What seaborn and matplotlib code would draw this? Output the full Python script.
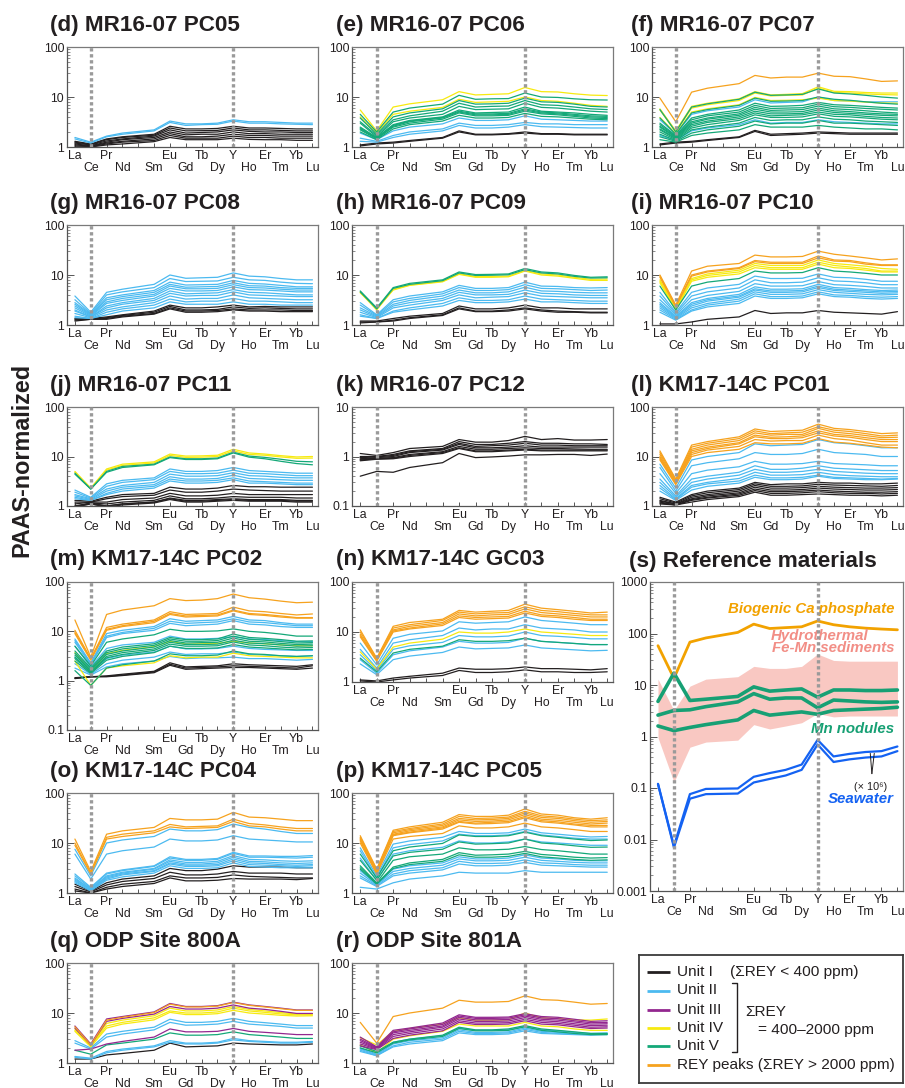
import matplotlib
matplotlib.use("Agg")
import matplotlib.pyplot as plt
from matplotlib.ticker import FixedLocator, FixedFormatter, LogLocator, NullFormatter
import pandas as pd
import seaborn as sns

# ---------------------------------------------------------------- data
ELEMENTS = ['La', 'Ce', 'Pr', 'Nd', 'Sm', 'Eu', 'Gd', 'Tb', 'Dy', 'Y', 'Ho', 'Er', 'Tm', 'Yb', 'Lu']
ELEMENT_POS = [0, 1, 2, 3, 5, 6, 7, 8, 9, 10, 11, 12, 13, 14, 15]   # Pm gap at 4
UPPER_TICKS = [0, 2, 6, 8, 10, 12, 14]
UPPER_LABELS = ['La', 'Pr', 'Eu', 'Tb', 'Y', 'Er', 'Yb']
LOWER_TICKS = [1, 3, 4, 5, 7, 9, 11, 13, 15]
LOWER_LABELS = ['Ce', 'Nd', '', 'Sm', 'Gd', 'Dy', 'Ho', 'Tm', 'Lu']

UNIT_COLORS = {'I': '#231f20', 'II': '#4cbaf0', 'III': '#93278f',
               'IV': '#f7ea10', 'V': '#14a878', 'P': '#f6a21e'}
DRAW_ORDER = ['I', 'II', 'IV', 'V', 'III', 'P']

# (d) MR16-07 PC05
d_I = [[1.30, 1.15, 1.45, 1.60, 1.80, 2.60, 2.30, 2.30, 2.35, 2.60, 2.40, 2.40, 2.35, 2.30, 2.30],
       [1.25, 1.12, 1.40, 1.55, 1.72, 2.40, 2.10, 2.12, 2.15, 2.40, 2.20, 2.20, 2.15, 2.10, 2.10],
       [1.20, 1.10, 1.32, 1.45, 1.65, 2.20, 1.90, 1.95, 2.00, 2.20, 2.05, 2.00, 2.00, 1.95, 1.95],
       [1.15, 1.06, 1.25, 1.40, 1.55, 2.00, 1.75, 1.80, 1.80, 2.00, 1.85, 1.85, 1.80, 1.80, 1.80],
       [1.10, 1.04, 1.20, 1.30, 1.45, 1.85, 1.60, 1.60, 1.65, 1.80, 1.70, 1.70, 1.65, 1.65, 1.65],
       [1.05, 1.02, 1.15, 1.25, 1.35, 1.70, 1.50, 1.50, 1.50, 1.65, 1.55, 1.55, 1.50, 1.50, 1.50],
       [1.00, 1.00, 1.10, 1.15, 1.28, 1.55, 1.40, 1.40, 1.40, 1.50, 1.42, 1.40, 1.40, 1.36, 1.36]]
d_II = [[1.55, 1.25, 1.65, 1.90, 2.20, 3.30, 2.90, 2.90, 3.00, 3.50, 3.20, 3.20, 3.10, 3.00, 3.00],
        [1.45, 1.20, 1.60, 1.80, 2.10, 3.10, 2.70, 2.80, 2.85, 3.30, 3.00, 3.00, 2.90, 2.85, 2.80]]

# (e) MR16-07 PC06
e_I = [[1.10, 1.20, 1.25, 1.35, 1.55, 2.10, 1.80, 1.80, 1.85, 2.00, 1.85, 1.85, 1.80, 1.80, 1.80],
       [1.05, 1.15, 1.20, 1.30, 1.50, 2.00, 1.75, 1.75, 1.80, 1.90, 1.80, 1.80, 1.75, 1.75, 1.75]]
e_II = [[1.90, 1.40, 2.10, 2.50, 2.90, 3.80, 3.40, 3.40, 3.50, 4.20, 3.60, 3.50, 3.40, 3.30, 3.30],
        [1.50, 1.30, 1.70, 2.00, 2.30, 3.00, 2.70, 2.70, 2.80, 3.10, 2.90, 2.90, 2.80, 2.80, 2.80],
        [1.30, 1.25, 1.55, 1.80, 2.10, 2.70, 2.40, 2.40, 2.50, 2.80, 2.55, 2.50, 2.45, 2.40, 2.40]]
e_IV = [[5.50, 2.10, 6.30, 7.30, 8.80, 12.8, 11.0, 11.3, 11.6, 15.5, 12.8, 12.6, 11.6, 10.9, 10.7],
        [4.00, 1.90, 4.50, 5.20, 6.20, 9.00, 7.80, 8.00, 8.20, 10.0, 8.50, 8.20, 7.50, 6.80, 6.50]]
e_V = [[4.50, 2.00, 5.00, 6.00, 7.20, 10.8, 9.00, 9.20, 9.30, 12.0, 10.0, 9.80, 9.20, 8.80, 8.70],
       [3.80, 1.80, 4.00, 4.80, 5.80, 8.50, 7.20, 7.30, 7.50, 9.50, 8.00, 7.80, 7.20, 6.50, 6.30],
       [3.20, 1.70, 3.50, 4.20, 5.20, 7.50, 6.30, 6.50, 6.60, 8.50, 7.00, 6.80, 6.30, 5.80, 5.60],
       [3.00, 1.60, 3.20, 3.80, 4.50, 6.50, 5.60, 5.70, 5.80, 7.50, 6.20, 6.00, 5.60, 5.20, 5.00],
       [2.50, 1.55, 2.80, 3.40, 4.00, 5.50, 4.80, 4.90, 5.00, 6.30, 5.20, 5.00, 4.80, 4.50, 4.30],
       [2.40, 1.50, 2.70, 3.30, 3.90, 5.20, 4.60, 4.60, 4.70, 5.80, 5.00, 4.80, 4.50, 4.20, 4.10],
       [2.30, 1.50, 2.60, 3.20, 3.80, 5.00, 4.40, 4.40, 4.50, 5.50, 4.80, 4.60, 4.30, 4.00, 3.90],
       [2.20, 1.45, 2.50, 3.00, 3.60, 4.80, 4.20, 4.20, 4.30, 5.20, 4.60, 4.40, 4.10, 3.80, 3.70],
       [2.00, 1.40, 2.30, 2.80, 3.30, 4.30, 3.80, 3.80, 3.90, 4.70, 4.10, 4.00, 3.80, 3.60, 3.50]]

# (f) MR16-07 PC07
f_I = [[1.15, 1.25, 1.30, 1.40, 1.60, 2.15, 1.80, 1.85, 1.90, 2.00, 1.95, 1.90, 1.90, 1.90, 1.90],
       [1.10, 1.20, 1.25, 1.35, 1.55, 2.05, 1.70, 1.75, 1.80, 1.90, 1.85, 1.80, 1.80, 1.80, 1.80]]
f_II = [[3.50, 1.80, 4.50, 5.30, 6.30, 8.80, 7.60, 7.80, 8.00, 10.0, 8.50, 8.30, 8.00, 8.00, 8.00],
        [1.70, 1.35, 2.10, 2.40, 2.80, 3.50, 3.00, 3.10, 3.10, 3.50, 3.20, 3.10, 3.00, 2.90, 2.90]]
f_IV = [[5.80, 2.10, 6.50, 7.50, 9.20, 12.8, 11.0, 11.3, 11.7, 16.0, 13.0, 12.8, 12.3, 12.0, 12.0],
        [5.50, 2.00, 6.00, 7.00, 8.50, 12.0, 10.5, 10.8, 11.0, 15.0, 12.3, 12.0, 11.5, 11.2, 11.0],
        [3.90, 1.85, 5.00, 5.80, 7.00, 9.80, 8.50, 8.60, 8.80, 9.50, 8.50, 8.30, 7.90, 7.60, 7.50]]
f_V = [[5.60, 2.00, 6.30, 7.30, 9.00, 12.5, 10.8, 11.0, 11.3, 14.5, 12.0, 11.5, 10.8, 10.0, 9.50],
       [3.80, 1.80, 4.80, 5.60, 6.80, 9.50, 8.20, 8.30, 8.50, 10.0, 9.00, 8.60, 8.00, 7.50, 7.20],
       [3.00, 1.70, 3.80, 4.50, 5.50, 7.50, 6.50, 6.60, 6.80, 7.80, 7.00, 6.80, 6.50, 6.20, 6.00],
       [2.80, 1.65, 3.50, 4.20, 5.00, 6.80, 5.90, 6.00, 6.10, 7.20, 6.40, 6.20, 5.90, 5.70, 5.50],
       [2.60, 1.60, 3.20, 3.80, 4.60, 6.20, 5.40, 5.50, 5.60, 6.60, 5.80, 5.60, 5.30, 5.00, 4.80],
       [2.50, 1.55, 3.00, 3.60, 4.30, 5.70, 5.00, 5.00, 5.10, 6.00, 5.30, 5.10, 4.80, 4.60, 4.50],
       [2.30, 1.50, 2.80, 3.30, 4.00, 5.20, 4.60, 4.60, 4.70, 5.50, 4.90, 4.70, 4.50, 4.30, 4.20],
       [2.20, 1.45, 2.60, 3.10, 3.70, 4.80, 4.20, 4.30, 4.40, 5.00, 4.50, 4.40, 4.10, 3.90, 3.80],
       [2.00, 1.40, 2.40, 2.80, 3.40, 4.40, 3.90, 3.90, 4.00, 4.60, 4.10, 4.00, 3.80, 3.60, 3.50],
       [1.80, 1.35, 2.20, 2.50, 3.00, 3.90, 3.40, 3.50, 3.50, 4.00, 3.60, 3.50, 3.30, 3.20, 3.10],
       [1.60, 1.30, 1.90, 2.20, 2.60, 3.30, 2.90, 3.00, 3.00, 3.40, 3.00, 3.00, 2.90, 2.80, 2.70],
       [1.40, 1.25, 1.70, 1.90, 2.20, 2.80, 2.50, 2.50, 2.50, 2.70, 2.50, 2.40, 2.30, 2.30, 2.20]]
f_P = [[9.50, 3.20, 12.5, 15.0, 18.5, 27.0, 24.0, 25.0, 25.0, 30.0, 26.0, 25.5, 23.0, 20.5, 21.0]]

# (g) MR16-07 PC08
g_I = [[1.35, 1.35, 1.45, 1.60, 1.90, 2.50, 2.20, 2.20, 2.30, 2.50, 2.30, 2.35, 2.30, 2.30, 2.30],
       [1.30, 1.30, 1.40, 1.55, 1.80, 2.35, 2.00, 2.00, 2.05, 2.30, 2.15, 2.20, 2.15, 2.10, 2.10],
       [1.25, 1.30, 1.35, 1.50, 1.70, 2.20, 1.90, 1.90, 1.95, 2.10, 2.00, 2.00, 2.00, 1.95, 1.95],
       [1.20, 1.30, 1.30, 1.45, 1.65, 2.10, 1.80, 1.80, 1.85, 2.00, 1.90, 1.90, 1.85, 1.85, 1.85]]
g_II = [[3.80, 1.80, 4.50, 5.20, 6.50, 10.0, 8.60, 8.80, 9.00, 11.0, 9.50, 9.20, 8.50, 8.00, 8.00],
        [3.20, 1.70, 4.00, 4.60, 5.60, 8.50, 7.40, 7.50, 7.60, 9.00, 8.00, 7.80, 7.20, 6.80, 6.70],
        [2.80, 1.65, 3.50, 4.00, 4.90, 7.20, 6.30, 6.40, 6.50, 7.80, 6.80, 6.60, 6.20, 5.80, 5.80],
        [2.60, 1.60, 3.20, 3.70, 4.50, 6.50, 5.70, 5.80, 5.90, 7.00, 6.10, 6.00, 5.60, 5.40, 5.40],
        [2.40, 1.55, 2.90, 3.40, 4.10, 6.00, 5.30, 5.30, 5.40, 6.40, 5.60, 5.50, 5.20, 5.00, 5.00],
        [2.20, 1.50, 2.70, 3.10, 3.80, 5.40, 4.80, 4.80, 4.90, 5.80, 5.10, 5.00, 4.80, 4.60, 4.60],
        [2.00, 1.45, 2.40, 2.80, 3.40, 4.80, 4.20, 4.30, 4.40, 5.10, 4.50, 4.40, 4.20, 4.00, 4.00],
        [1.90, 1.45, 2.20, 2.60, 3.10, 4.30, 3.80, 3.90, 3.90, 4.60, 4.00, 3.90, 3.80, 3.70, 3.70],
        [1.70, 1.40, 2.00, 2.30, 2.80, 3.80, 3.30, 3.40, 3.40, 4.00, 3.50, 3.40, 3.30, 3.20, 3.20],
        [1.50, 1.35, 1.80, 2.10, 2.50, 3.30, 2.90, 3.00, 3.00, 3.40, 3.00, 3.00, 2.90, 2.80, 2.80],
        [1.40, 1.35, 1.60, 1.90, 2.20, 2.90, 2.60, 2.60, 2.60, 2.90, 2.60, 2.60, 2.50, 2.50, 2.50]]

# (h) MR16-07 PC09
h_I = [[1.20, 1.20, 1.35, 1.50, 1.70, 2.40, 2.10, 2.10, 2.20, 2.50, 2.20, 2.20, 2.10, 2.10, 2.10],
       [1.15, 1.15, 1.25, 1.40, 1.60, 2.20, 1.90, 1.90, 2.00, 2.20, 2.00, 1.90, 1.85, 1.80, 1.80],
       [1.10, 1.15, 1.20, 1.35, 1.55, 2.10, 1.85, 1.85, 1.90, 2.10, 1.90, 1.80, 1.80, 1.75, 1.75]]
h_II = [[2.80, 1.60, 3.20, 3.80, 4.60, 6.20, 5.40, 5.40, 5.60, 7.20, 6.00, 5.90, 5.60, 5.50, 5.60],
        [2.50, 1.55, 2.90, 3.40, 4.20, 5.60, 4.90, 4.90, 5.10, 6.40, 5.40, 5.30, 5.10, 4.90, 5.00],
        [2.20, 1.50, 2.60, 3.10, 3.80, 5.00, 4.40, 4.40, 4.60, 5.70, 4.80, 4.70, 4.50, 4.40, 4.40],
        [2.00, 1.45, 2.40, 2.80, 3.40, 4.50, 4.00, 4.00, 4.10, 5.00, 4.30, 4.20, 4.00, 3.90, 3.90],
        [1.80, 1.40, 2.20, 2.50, 3.10, 4.00, 3.50, 3.60, 3.70, 4.40, 3.80, 3.70, 3.60, 3.50, 3.50],
        [1.60, 1.35, 1.90, 2.20, 2.70, 3.50, 3.10, 3.10, 3.20, 3.80, 3.30, 3.20, 3.10, 3.00, 3.00],
        [1.50, 1.35, 1.80, 2.00, 2.40, 3.10, 2.80, 2.80, 2.90, 3.30, 2.90, 2.90, 2.80, 2.70, 2.70]]
h_IV = [[4.40, 2.10, 5.00, 6.20, 7.30, 10.3, 9.00, 9.00, 9.20, 12.0, 10.0, 9.50, 8.60, 7.80, 7.80],
        [4.50, 2.00, 5.20, 6.30, 7.50, 10.6, 9.30, 9.40, 9.50, 12.3, 10.5, 10.0, 9.00, 8.20, 8.30]]
h_V = [[4.80, 2.20, 5.60, 6.80, 8.00, 11.5, 10.2, 10.3, 10.5, 13.5, 11.5, 11.0, 9.80, 9.00, 9.20],
       [4.60, 2.10, 5.40, 6.50, 7.70, 11.0, 9.80, 9.90, 10.1, 12.8, 11.0, 10.5, 9.40, 8.70, 8.80]]

# (i) MR16-07 PC10
i_I = [[1.05, 1.05, 1.15, 1.30, 1.45, 1.95, 1.70, 1.75, 1.75, 1.95, 1.80, 1.75, 1.70, 1.65, 1.85]]
i_II = [[4.50, 1.80, 4.50, 5.50, 6.50, 9.50, 8.50, 8.50, 8.60, 10.5, 9.00, 8.80, 8.20, 7.50, 7.50],
        [3.80, 1.70, 3.80, 4.60, 5.50, 8.00, 7.00, 7.00, 7.20, 8.80, 7.60, 7.40, 7.00, 6.40, 6.40],
        [3.20, 1.60, 3.20, 3.90, 4.70, 6.70, 6.00, 6.00, 6.10, 7.40, 6.40, 6.20, 5.90, 5.50, 5.50],
        [2.80, 1.50, 2.80, 3.40, 4.10, 5.80, 5.20, 5.20, 5.30, 6.50, 5.60, 5.40, 5.10, 4.90, 5.00],
        [2.60, 1.45, 2.60, 3.20, 3.80, 5.30, 4.80, 4.80, 4.90, 6.00, 5.20, 5.00, 4.80, 4.60, 4.70],
        [2.40, 1.40, 2.40, 3.00, 3.60, 5.00, 4.50, 4.50, 4.60, 5.60, 4.90, 4.70, 4.50, 4.30, 4.40],
        [2.20, 1.35, 2.20, 2.70, 3.30, 4.60, 4.10, 4.10, 4.20, 5.10, 4.50, 4.30, 4.10, 4.00, 4.10],
        [2.00, 1.30, 2.00, 2.50, 3.00, 4.20, 3.70, 3.70, 3.80, 4.60, 4.00, 3.90, 3.70, 3.60, 3.70],
        [1.80, 1.25, 1.90, 2.30, 2.70, 3.80, 3.40, 3.40, 3.50, 4.20, 3.70, 3.60, 3.40, 3.30, 3.40]]
i_IV = [[8.00, 2.20, 8.50, 10.5, 12.5, 17.0, 15.5, 15.5, 15.5, 20.0, 17.0, 16.0, 15.0, 13.5, 13.0],
        [7.50, 2.10, 8.00, 9.80, 11.5, 15.5, 14.0, 14.0, 14.0, 18.0, 15.5, 14.5, 13.5, 12.0, 12.0],
        [7.00, 2.00, 7.50, 9.00, 10.5, 14.0, 13.0, 13.0, 13.0, 16.5, 14.0, 13.5, 12.5, 11.5, 11.5]]
i_V = [[6.00, 2.00, 6.00, 7.20, 8.50, 12.0, 11.0, 11.0, 11.2, 14.0, 12.0, 11.5, 10.8, 10.0, 10.0]]
i_P = [[10.0, 2.50, 12.0, 15.0, 17.0, 25.0, 23.0, 23.0, 23.5, 30.0, 26.0, 24.0, 22.0, 20.0, 21.0],
       [9.50, 2.40, 10.0, 12.0, 14.0, 19.5, 18.0, 18.0, 18.0, 24.0, 20.0, 19.5, 17.5, 16.0, 16.0],
       [9.00, 2.30, 9.50, 11.5, 13.5, 18.5, 17.0, 17.0, 17.0, 22.0, 19.0, 18.5, 16.5, 15.5, 15.5]]

# (j) MR16-07 PC11
j_I = [[1.30, 1.25, 1.50, 1.70, 1.80, 2.40, 2.20, 2.20, 2.30, 2.60, 2.45, 2.45, 2.40, 2.40, 2.40],
       [1.20, 1.20, 1.40, 1.55, 1.65, 2.10, 1.90, 1.90, 2.00, 2.20, 2.10, 2.05, 2.00, 2.00, 2.00],
       [1.10, 1.20, 1.20, 1.35, 1.45, 1.80, 1.60, 1.60, 1.65, 1.80, 1.70, 1.70, 1.70, 1.70, 1.70],
       [1.00, 1.15, 1.10, 1.20, 1.30, 1.60, 1.40, 1.40, 1.45, 1.55, 1.50, 1.50, 1.50, 1.45, 1.45],
       [0.95, 1.15, 1.00, 1.10, 1.20, 1.45, 1.30, 1.30, 1.35, 1.40, 1.35, 1.35, 1.35, 1.30, 1.30],
       [0.95, 1.10, 0.95, 1.05, 1.15, 1.35, 1.20, 1.20, 1.25, 1.30, 1.25, 1.25, 1.25, 1.20, 1.20],
       [1.00, 1.10, 1.00, 1.10, 1.20, 1.40, 1.25, 1.25, 1.30, 1.35, 1.30, 1.30, 1.30, 1.25, 1.25]]
j_II = [[2.10, 1.50, 2.80, 3.30, 3.70, 5.60, 5.00, 5.00, 5.20, 6.00, 5.20, 5.00, 4.80, 4.60, 4.60],
        [1.90, 1.45, 2.50, 3.00, 3.40, 5.00, 4.50, 4.50, 4.60, 5.30, 4.60, 4.50, 4.30, 4.10, 4.10],
        [1.70, 1.40, 2.20, 2.60, 3.00, 4.40, 4.00, 4.00, 4.10, 4.70, 4.10, 4.00, 3.80, 3.70, 3.70],
        [1.60, 1.35, 2.00, 2.40, 2.70, 3.90, 3.50, 3.50, 3.60, 4.20, 3.60, 3.50, 3.40, 3.30, 3.30],
        [1.50, 1.30, 1.80, 2.20, 2.50, 3.50, 3.20, 3.20, 3.30, 3.70, 3.20, 3.10, 3.00, 2.90, 2.90],
        [1.40, 1.30, 1.70, 2.00, 2.30, 3.20, 2.90, 2.90, 3.00, 3.40, 2.90, 2.90, 2.80, 2.70, 2.70]]
j_IV = [[5.00, 2.30, 5.60, 7.00, 7.80, 11.2, 10.2, 10.3, 10.6, 14.0, 11.8, 11.2, 10.4, 9.80, 10.0],
        [4.80, 2.25, 5.30, 6.60, 7.40, 10.5, 9.60, 9.70, 10.0, 13.0, 11.0, 10.6, 9.80, 9.20, 9.30]]
j_V = [[4.60, 2.20, 5.00, 6.30, 7.00, 9.80, 9.00, 9.00, 9.30, 12.2, 10.2, 9.60, 8.80, 8.00, 7.80],
       [4.40, 2.20, 4.80, 6.00, 6.80, 9.50, 8.70, 8.70, 9.00, 11.8, 9.70, 9.00, 8.00, 7.20, 6.80]]

# (k) MR16-07 PC12
k_I = [[1.15, 1.05, 1.20, 1.45, 1.60, 2.20, 1.95, 1.95, 2.10, 2.55, 2.20, 2.30, 2.15, 2.15, 2.20],
       [1.00, 1.00, 1.10, 1.30, 1.45, 2.00, 1.75, 1.75, 1.85, 2.00, 1.85, 1.85, 1.80, 1.80, 1.75],
       [0.95, 0.98, 1.05, 1.25, 1.40, 1.85, 1.60, 1.65, 1.70, 1.85, 1.70, 1.70, 1.65, 1.65, 1.65],
       [0.90, 0.95, 1.00, 1.20, 1.35, 1.75, 1.50, 1.50, 1.55, 1.65, 1.55, 1.55, 1.55, 1.55, 1.55],
       [0.88, 0.92, 0.95, 1.10, 1.25, 1.60, 1.40, 1.40, 1.45, 1.50, 1.45, 1.45, 1.42, 1.40, 1.40],
       [0.85, 0.90, 0.92, 1.05, 1.20, 1.50, 1.30, 1.30, 1.35, 1.40, 1.35, 1.35, 1.35, 1.35, 1.35],
       [0.82, 0.88, 0.90, 1.00, 1.15, 1.45, 1.25, 1.25, 1.30, 1.35, 1.30, 1.30, 1.30, 1.30, 1.30],
       [0.40, 0.50, 0.48, 0.60, 0.75, 1.15, 0.95, 0.98, 1.02, 1.08, 1.08, 1.10, 1.10, 1.05, 1.12]]

# (l) KM17-14C PC01
l_I = [[1.50, 1.20, 1.70, 2.00, 2.30, 3.00, 2.70, 2.80, 2.80, 3.00, 2.90, 2.90, 2.80, 2.80, 2.90],
       [1.40, 1.15, 1.60, 1.85, 2.15, 2.80, 2.50, 2.50, 2.55, 2.75, 2.65, 2.60, 2.55, 2.50, 2.60],
       [1.30, 1.10, 1.50, 1.70, 2.00, 2.60, 2.30, 2.30, 2.35, 2.50, 2.40, 2.35, 2.30, 2.30, 2.35],
       [1.25, 1.10, 1.40, 1.60, 1.85, 2.40, 2.10, 2.10, 2.15, 2.30, 2.20, 2.15, 2.10, 2.10, 2.15],
       [1.20, 1.05, 1.35, 1.50, 1.75, 2.20, 1.95, 1.95, 2.00, 2.10, 2.00, 1.95, 1.90, 1.90, 1.95],
       [1.15, 1.05, 1.30, 1.45, 1.65, 2.05, 1.80, 1.80, 1.85, 1.95, 1.85, 1.80, 1.80, 1.75, 1.80],
       [1.10, 1.05, 1.20, 1.35, 1.55, 1.90, 1.65, 1.65, 1.70, 1.75, 1.70, 1.65, 1.65, 1.60, 1.65]]
l_II = [[7.00, 2.30, 8.50, 10.0, 12.0, 18.0, 16.5, 17.0, 17.5, 22.0, 19.0, 18.0, 16.5, 15.0, 15.0],
        [6.00, 2.00, 6.50, 7.50, 9.00, 12.0, 11.0, 11.0, 11.5, 14.0, 12.0, 11.5, 11.0, 10.0, 10.0],
        [4.50, 1.80, 4.50, 5.30, 6.20, 8.00, 7.00, 7.00, 7.20, 8.00, 7.20, 7.00, 6.80, 6.50, 6.50],
        [3.50, 1.60, 3.50, 4.00, 4.80, 6.50, 5.50, 5.50, 5.80, 6.50, 5.80, 5.60, 5.40, 5.20, 5.20],
        [3.00, 1.50, 3.00, 3.50, 4.20, 5.50, 4.80, 4.80, 5.00, 5.50, 5.00, 4.80, 4.60, 4.50, 4.50],
        [2.60, 1.40, 2.60, 3.00, 3.60, 4.80, 4.20, 4.20, 4.30, 4.80, 4.30, 4.10, 4.00, 3.90, 3.90],
        [2.30, 1.35, 2.40, 2.80, 3.20, 4.20, 3.70, 3.70, 3.80, 4.20, 3.80, 3.70, 3.60, 3.50, 3.60],
        [2.00, 1.30, 2.10, 2.50, 2.90, 3.80, 3.40, 3.40, 3.50, 4.00, 3.60, 3.50, 3.40, 3.40, 3.50]]
l_P = [[13.0, 3.50, 17.0, 20.0, 25.0, 36.0, 32.0, 33.0, 34.0, 45.0, 37.0, 35.0, 32.0, 29.0, 30.0],
       [12.0, 3.30, 15.5, 18.5, 23.0, 33.0, 29.0, 30.0, 31.0, 40.0, 34.0, 32.0, 29.0, 26.0, 27.0],
       [11.0, 3.10, 14.0, 17.0, 21.0, 30.0, 27.0, 28.0, 28.0, 37.0, 31.0, 29.0, 26.5, 24.0, 24.5],
       [10.0, 3.00, 13.0, 15.5, 19.0, 27.0, 24.5, 25.0, 26.0, 33.0, 28.0, 26.5, 24.0, 22.0, 22.0],
       [9.50, 2.90, 12.0, 14.5, 18.0, 25.0, 23.0, 23.0, 24.0, 30.0, 26.0, 24.5, 22.0, 20.0, 20.0],
       [9.00, 2.80, 11.0, 13.5, 16.0, 22.0, 20.5, 21.0, 21.0, 27.0, 23.0, 21.5, 19.0, 17.0, 17.0],
       [8.50, 2.70, 10.0, 12.0, 14.0, 19.0, 18.0, 18.0, 18.5, 23.0, 19.5, 18.5, 17.0, 15.5, 15.0]]

# (m) KM17-14C PC02
m_I = [[1.15, 1.20, 1.25, 1.35, 1.55, 2.30, 1.90, 1.95, 2.00, 2.20, 2.10, 2.05, 2.00, 1.95, 2.10],
       [1.12, 1.20, 1.22, 1.30, 1.50, 2.15, 1.80, 1.85, 1.90, 2.00, 1.95, 1.90, 1.85, 1.80, 2.00],
       [1.10, 1.20, 1.20, 1.27, 1.45, 2.05, 1.70, 1.75, 1.80, 1.85, 1.85, 1.80, 1.75, 1.70, 1.80]]
m_II = [[7.00, 2.30, 9.00, 10.5, 12.5, 18.0, 16.0, 16.5, 17.0, 20.0, 17.0, 16.5, 15.0, 14.0, 14.0],
        [6.50, 2.20, 8.00, 9.50, 11.5, 16.0, 14.5, 15.0, 15.5, 18.0, 15.5, 15.0, 14.0, 13.0, 13.0],
        [6.00, 2.10, 7.50, 9.00, 10.5, 14.5, 13.0, 13.5, 14.0, 16.5, 14.0, 13.5, 12.5, 12.0, 12.0],
        [5.00, 1.90, 4.50, 5.30, 6.00, 8.00, 7.00, 7.00, 7.20, 7.80, 7.00, 6.80, 6.50, 6.20, 6.20],
        [3.00, 1.50, 2.80, 3.30, 3.80, 5.00, 4.40, 4.40, 4.50, 5.00, 4.50, 4.30, 4.20, 4.10, 4.10],
        [2.20, 1.35, 2.20, 2.60, 3.00, 3.80, 3.40, 3.50, 3.50, 3.80, 3.40, 3.30, 3.20, 3.10, 3.20],
        [1.80, 1.30, 1.90, 2.20, 2.50, 3.10, 2.80, 2.90, 2.90, 3.00, 2.80, 2.80, 2.70, 2.60, 2.70]]
m_IV = [[3.70, 1.50, 3.50, 4.10, 4.90, 6.30, 5.50, 5.60, 5.70, 6.30, 5.80, 5.60, 5.30, 5.10, 5.10],
        [2.50, 0.80, 1.80, 2.00, 2.30, 3.20, 2.90, 3.00, 3.00, 3.60, 3.20, 3.10, 3.00, 2.90, 2.90]]
m_V = [[5.00, 2.00, 6.00, 7.00, 8.50, 11.0, 10.0, 10.0, 10.2, 11.2, 10.0, 9.50, 8.80, 8.00, 8.00],
       [4.00, 1.80, 4.00, 4.80, 5.60, 7.50, 6.80, 6.80, 7.00, 8.80, 7.50, 7.20, 6.80, 6.30, 6.40],
       [3.60, 1.70, 3.70, 4.40, 5.20, 7.00, 6.30, 6.30, 6.50, 8.00, 6.90, 6.60, 6.20, 5.80, 5.90],
       [3.30, 1.60, 3.40, 4.00, 4.80, 6.50, 5.80, 5.90, 6.00, 7.30, 6.30, 6.10, 5.70, 5.40, 5.50],
       [3.00, 1.50, 3.10, 3.70, 4.40, 6.00, 5.40, 5.40, 5.50, 6.60, 5.80, 5.60, 5.30, 5.00, 5.10],
       [2.80, 1.45, 2.90, 3.40, 4.10, 5.50, 5.00, 5.00, 5.10, 6.10, 5.30, 5.10, 4.80, 4.60, 4.70],
       [2.50, 1.40, 2.60, 3.10, 3.70, 5.00, 4.50, 4.50, 4.60, 5.40, 4.80, 4.60, 4.40, 4.20, 4.30],
       [1.60, 0.80, 1.80, 2.10, 2.50, 3.50, 3.20, 3.20, 3.30, 4.00, 3.50, 3.40, 3.20, 3.10, 3.20]]
m_P = [[17.0, 3.00, 22.0, 27.0, 33.0, 46.0, 42.0, 43.0, 46.0, 57.0, 48.0, 45.0, 41.0, 38.0, 39.0],
       [10.5, 2.80, 12.0, 14.0, 17.0, 25.0, 22.0, 22.5, 23.0, 31.0, 26.0, 25.0, 23.0, 21.5, 22.5],
       [9.50, 2.70, 11.0, 13.0, 16.0, 23.0, 20.5, 21.0, 21.5, 27.0, 23.0, 22.0, 20.5, 19.0, 19.0],
       [9.00, 2.60, 10.5, 12.5, 15.0, 22.0, 19.5, 20.0, 20.5, 26.0, 22.0, 21.0, 19.5, 18.5, 18.5]]

# (n) KM17-14C GC03
n_I = [[1.10, 1.05, 1.20, 1.30, 1.50, 1.90, 1.80, 1.80, 1.85, 2.00, 1.85, 1.85, 1.80, 1.75, 1.85],
       [1.05, 1.00, 1.10, 1.20, 1.35, 1.70, 1.55, 1.55, 1.60, 1.75, 1.60, 1.60, 1.55, 1.55, 1.60]]
n_II = [[6.00, 2.20, 7.50, 9.00, 10.5, 16.0, 15.0, 15.5, 16.0, 20.0, 17.0, 16.0, 15.0, 14.0, 14.0],
        [4.50, 1.90, 6.00, 7.00, 8.50, 12.0, 11.0, 11.5, 11.5, 14.0, 12.0, 11.5, 11.0, 10.0, 10.0],
        [3.50, 1.70, 4.50, 5.30, 6.20, 8.50, 8.00, 8.00, 8.30, 10.0, 8.50, 8.20, 7.80, 7.30, 7.30],
        [2.80, 1.50, 3.50, 4.20, 5.00, 6.50, 6.00, 6.00, 6.20, 7.50, 6.50, 6.20, 5.90, 5.60, 5.60],
        [2.30, 1.40, 2.80, 3.30, 3.90, 5.00, 4.60, 4.70, 4.80, 5.50, 4.80, 4.60, 4.40, 4.20, 4.30]]
n_IV = [[4.00, 1.80, 5.00, 6.00, 7.20, 10.0, 9.50, 9.50, 10.0, 11.5, 10.0, 9.50, 9.00, 8.50, 8.50]]
n_V = [[3.00, 1.60, 3.80, 4.50, 5.20, 7.00, 6.50, 6.50, 6.70, 7.50, 6.50, 6.20, 5.90, 5.60, 5.60]]
n_P = [[11.0, 3.00, 13.0, 15.5, 18.0, 27.0, 25.0, 26.0, 27.0, 36.0, 30.0, 28.0, 26.0, 24.0, 25.0],
       [10.0, 2.90, 12.0, 14.0, 17.0, 25.0, 23.0, 24.0, 24.5, 32.0, 27.0, 25.5, 23.5, 22.0, 22.0],
       [9.00, 2.80, 11.0, 13.0, 15.5, 23.0, 21.0, 22.0, 22.5, 29.0, 24.5, 23.0, 21.5, 20.0, 20.0],
       [8.50, 2.70, 10.5, 12.0, 14.5, 21.0, 19.5, 20.0, 20.5, 26.0, 22.0, 21.0, 19.5, 18.0, 18.0],
       [8.00, 2.60, 10.0, 11.5, 13.5, 19.5, 18.0, 18.5, 19.0, 24.0, 20.5, 19.5, 18.0, 17.0, 17.0]]

# (o) KM17-14C PC04
o_I = [[1.50, 1.10, 1.60, 1.90, 2.20, 3.10, 2.80, 2.80, 3.00, 3.50, 3.30, 3.30, 3.30, 3.20, 3.20],
       [1.35, 1.05, 1.45, 1.70, 1.95, 2.60, 2.30, 2.30, 2.40, 2.70, 2.50, 2.50, 2.50, 2.40, 2.40],
       [1.20, 1.00, 1.30, 1.50, 1.70, 2.20, 2.00, 2.00, 2.05, 2.30, 2.15, 2.10, 2.05, 2.00, 2.00],
       [1.10, 1.00, 1.20, 1.35, 1.55, 2.00, 1.75, 1.75, 1.80, 1.95, 1.90, 1.90, 1.90, 1.85, 1.95]]
o_II = [[7.50, 2.20, 10.0, 11.5, 13.5, 19.0, 17.5, 17.5, 18.5, 24.0, 20.5, 19.0, 17.0, 15.5, 15.5],
        [6.00, 1.90, 6.00, 7.00, 8.30, 12.0, 11.0, 11.0, 11.5, 14.0, 12.0, 11.5, 11.0, 10.5, 10.5],
        [2.40, 1.30, 2.50, 2.90, 3.50, 5.30, 4.70, 4.70, 4.90, 6.50, 5.50, 5.50, 5.40, 5.40, 5.60],
        [2.20, 1.25, 2.40, 2.80, 3.40, 5.00, 4.50, 4.50, 4.70, 6.20, 5.20, 5.20, 5.10, 5.00, 5.20],
        [2.00, 1.20, 2.20, 2.60, 3.10, 4.60, 4.10, 4.10, 4.30, 5.60, 4.70, 4.60, 4.40, 4.30, 4.40],
        [1.90, 1.20, 2.10, 2.50, 3.00, 4.30, 3.80, 3.80, 4.00, 5.20, 4.30, 4.20, 4.00, 3.90, 4.00],
        [1.80, 1.15, 2.00, 2.40, 2.80, 4.00, 3.60, 3.60, 3.70, 4.80, 4.00, 3.90, 3.70, 3.60, 3.70],
        [1.70, 1.15, 1.90, 2.30, 2.70, 3.80, 3.40, 3.40, 3.50, 4.40, 3.70, 3.60, 3.50, 3.40, 3.50],
        [1.60, 1.10, 1.80, 2.10, 2.50, 3.50, 3.10, 3.10, 3.20, 4.00, 3.40, 3.30, 3.20, 3.20, 3.20]]
o_P = [[12.0, 2.70, 15.0, 17.5, 20.5, 31.0, 29.0, 29.0, 30.0, 41.0, 33.0, 32.0, 30.0, 28.0, 28.0],
       [10.0, 2.50, 13.0, 15.0, 17.5, 23.5, 21.0, 21.5, 22.0, 30.0, 24.5, 23.0, 21.0, 19.5, 19.5],
       [9.00, 2.40, 12.0, 13.5, 16.0, 21.0, 19.5, 20.0, 20.5, 27.0, 22.0, 21.0, 19.0, 17.5, 17.5]]

# (p) KM17-14C PC05
p_II = [[8.00, 2.20, 9.50, 11.0, 13.0, 17.0, 15.5, 15.5, 16.0, 19.0, 16.0, 15.0, 14.0, 13.2, 13.5],
        [7.00, 2.00, 8.00, 9.30, 11.0, 15.0, 14.0, 14.0, 14.5, 17.0, 14.5, 13.5, 12.5, 12.0, 12.0],
        [5.00, 1.80, 6.00, 7.00, 8.20, 11.0, 10.0, 10.0, 10.5, 12.0, 10.5, 10.0, 9.50, 9.00, 9.00],
        [2.80, 1.50, 3.00, 3.50, 4.00, 5.30, 4.80, 4.80, 5.00, 5.80, 5.00, 4.80, 4.50, 4.40, 4.40],
        [2.50, 1.45, 2.70, 3.10, 3.60, 4.80, 4.40, 4.40, 4.50, 5.20, 4.50, 4.30, 4.10, 4.00, 4.00],
        [2.20, 1.40, 2.40, 2.80, 3.20, 4.30, 3.90, 3.90, 4.00, 4.60, 4.00, 3.90, 3.70, 3.60, 3.60],
        [2.00, 1.35, 2.20, 2.50, 2.90, 3.80, 3.50, 3.50, 3.60, 4.10, 3.60, 3.50, 3.40, 3.30, 3.30],
        [1.30, 1.20, 1.60, 1.90, 2.20, 2.60, 2.50, 2.50, 2.50, 2.80, 2.60, 2.60, 2.60, 2.60, 2.60]]
p_V = [[6.00, 2.00, 7.00, 8.30, 9.80, 14.5, 13.5, 13.5, 14.0, 16.5, 14.0, 13.0, 12.0, 11.2, 11.5],
       [4.50, 1.80, 5.50, 6.50, 7.50, 10.5, 9.50, 9.70, 10.0, 12.0, 10.0, 9.50, 8.80, 8.20, 8.30],
       [3.50, 1.60, 4.50, 5.30, 6.00, 8.00, 7.30, 7.30, 7.50, 8.50, 7.40, 7.00, 6.50, 6.00, 6.00],
       [3.20, 1.55, 3.30, 4.00, 4.70, 6.40, 5.70, 5.80, 6.00, 6.80, 5.90, 5.60, 5.20, 5.00, 5.10],
       [3.00, 1.50, 3.10, 3.70, 4.30, 5.80, 5.20, 5.20, 5.40, 6.20, 5.30, 5.00, 4.70, 4.50, 4.60]]
p_P = [[14.0, 3.00, 18.0, 21.0, 26.0, 37.0, 34.0, 34.0, 36.0, 48.0, 38.0, 36.0, 32.0, 30.0, 32.0],
       [13.0, 2.90, 17.0, 19.5, 24.0, 34.0, 31.0, 31.5, 33.0, 43.0, 35.0, 33.0, 30.0, 28.0, 29.0],
       [12.5, 2.80, 16.0, 18.5, 22.5, 31.0, 29.0, 29.5, 31.0, 40.0, 32.5, 31.0, 28.0, 26.0, 27.0],
       [12.0, 2.70, 15.0, 17.5, 21.0, 29.0, 27.0, 27.5, 29.0, 37.0, 30.0, 28.5, 26.0, 24.0, 25.0],
       [11.5, 2.60, 14.5, 16.5, 20.0, 27.0, 25.0, 26.0, 27.0, 34.0, 28.0, 26.5, 24.0, 22.5, 22.5],
       [11.0, 2.50, 14.0, 16.0, 19.0, 26.0, 24.0, 24.5, 25.5, 32.0, 26.5, 25.0, 23.0, 21.0, 21.0],
       [10.0, 2.40, 12.0, 13.5, 15.5, 22.0, 20.0, 20.0, 21.0, 25.0, 21.0, 20.0, 18.5, 17.0, 17.0]]

# (q) ODP Site 800A
q_I = [[1.20, 1.20, 1.45, 1.55, 1.80, 2.50, 2.10, 2.15, 2.20, 2.50, 2.40, 2.35, 2.30, 2.30, 2.40]]
q_II = [[2.80, 2.00, 3.80, 4.30, 5.20, 7.50, 6.50, 6.50, 6.80, 7.80, 6.80, 6.40, 6.00, 5.60, 5.60],
        [2.50, 1.90, 3.30, 3.80, 4.60, 6.50, 5.70, 5.80, 6.00, 6.80, 6.00, 5.70, 5.40, 5.00, 5.00],
        [1.35, 1.25, 1.70, 1.90, 2.20, 2.80, 2.50, 2.50, 2.60, 3.10, 2.80, 2.70, 2.60, 2.60, 2.70],
        [1.30, 1.20, 1.60, 1.80, 2.10, 2.60, 2.40, 2.40, 2.50, 2.90, 2.70, 2.60, 2.50, 2.50, 2.60]]
q_III = [[5.50, 2.40, 7.60, 8.50, 10.5, 15.5, 13.5, 13.5, 14.0, 16.5, 14.5, 13.5, 12.5, 11.5, 11.5],
         [5.00, 2.30, 6.80, 7.80, 9.50, 13.5, 12.0, 12.0, 12.5, 14.5, 12.5, 11.8, 10.8, 9.80, 9.80],
         [1.80, 1.90, 2.40, 2.70, 3.30, 4.80, 4.20, 4.20, 4.30, 4.90, 4.30, 4.10, 3.90, 3.70, 3.70]]
q_IV = [[4.80, 2.20, 6.20, 7.20, 8.80, 12.5, 11.0, 11.0, 11.5, 13.5, 11.8, 11.0, 10.2, 9.50, 9.50],
        [4.50, 2.20, 5.50, 6.50, 8.00, 11.0, 10.0, 10.0, 10.5, 12.5, 11.0, 10.3, 9.60, 9.20, 9.20],
        [4.30, 2.10, 5.00, 6.00, 7.30, 10.3, 9.30, 9.30, 9.70, 11.3, 10.0, 9.50, 9.00, 8.70, 8.80]]
q_V = [[1.80, 1.50, 2.30, 2.50, 3.00, 4.00, 3.60, 3.60, 3.70, 4.20, 3.70, 3.50, 3.30, 3.10, 3.10]]
q_P = [[5.30, 2.30, 7.20, 8.20, 10.2, 15.0, 13.2, 13.2, 13.7, 16.2, 14.2, 13.2, 12.2, 11.3, 11.3]]

# (r) ODP Site 801A
r_II = [[2.00, 1.50, 2.60, 3.00, 3.50, 5.00, 4.50, 4.50, 4.60, 5.40, 4.60, 4.40, 4.10, 3.90, 4.00],
        [1.90, 1.45, 2.40, 2.80, 3.20, 4.60, 4.10, 4.10, 4.20, 5.00, 4.30, 4.10, 3.90, 3.80, 3.80],
        [1.80, 1.40, 2.20, 2.60, 3.00, 4.30, 3.90, 3.90, 4.00, 4.70, 4.10, 3.90, 3.80, 3.70, 3.80],
        [1.70, 1.40, 2.10, 2.40, 2.80, 4.00, 3.70, 3.70, 3.80, 4.40, 3.90, 3.80, 3.70, 3.60, 3.70]]
r_III = [[3.30, 2.10, 4.50, 5.00, 6.30, 9.20, 8.20, 8.20, 8.30, 9.70, 8.50, 8.20, 7.50, 6.80, 7.00],
         [3.00, 2.05, 4.20, 4.80, 5.90, 8.70, 7.80, 7.80, 7.90, 9.20, 8.00, 7.70, 7.00, 6.40, 6.50],
         [2.80, 2.00, 4.00, 4.50, 5.50, 8.20, 7.30, 7.30, 7.40, 8.70, 7.50, 7.20, 6.60, 6.00, 6.10],
         [2.60, 1.95, 3.70, 4.20, 5.20, 7.60, 6.80, 6.80, 6.90, 8.10, 7.00, 6.70, 6.10, 5.60, 5.70],
         [2.40, 1.90, 3.40, 3.90, 4.80, 7.00, 6.30, 6.30, 6.40, 7.50, 6.50, 6.20, 5.70, 5.20, 5.30],
         [2.20, 1.85, 3.10, 3.60, 4.40, 6.50, 5.90, 5.90, 6.00, 7.00, 6.00, 5.80, 5.30, 4.90, 5.00]]
r_IV = [[3.20, 2.30, 4.30, 4.90, 6.00, 8.00, 7.20, 7.20, 7.30, 10.0, 8.00, 7.80, 7.30, 7.20, 7.60],
        [2.30, 1.60, 3.00, 3.50, 4.30, 6.00, 5.50, 5.50, 5.50, 6.50, 5.50, 5.30, 4.80, 4.50, 4.50]]
r_V = [[2.20, 1.70, 2.60, 3.00, 3.60, 5.20, 4.60, 4.60, 4.80, 5.60, 4.80, 4.50, 4.20, 3.90, 3.90],
       [2.00, 1.60, 2.50, 2.90, 3.40, 4.90, 4.40, 4.40, 4.50, 5.30, 4.50, 4.20, 3.90, 3.70, 3.70]]
r_P = [[6.50, 2.50, 8.50, 10.0, 12.5, 18.0, 16.5, 16.5, 17.0, 22.0, 18.5, 18.0, 16.5, 15.0, 15.5]]

# (s) Reference materials
s_phosphate = [58.0, 13.5, 68.0, 82.0, 105.0, 152.0, 125.0, 130.0, 135.0, 175.0, 148.0, 135.0, 127.0, 122.0, 118.0]
s_nodules = [[4.8, 17.0, 5.0, 5.3, 6.0, 9.2, 7.6, 8.0, 8.4, 5.8, 8.0, 8.0, 7.8, 7.8, 8.0],
             [2.6, 3.2, 3.3, 3.8, 4.7, 6.8, 5.3, 5.6, 5.6, 3.6, 5.1, 4.9, 4.7, 4.6, 4.7],
             [1.6, 1.3, 1.5, 1.7, 2.1, 3.2, 2.6, 2.8, 3.0, 2.7, 3.2, 3.3, 3.4, 3.5, 3.7]]
s_hydro_upper = [13.0, 3.2, 9.5, 13.0, 14.5, 23.0, 21.0, 21.0, 23.0, 40.0, 30.0, 29.0, 29.0, 29.0, 29.0]
s_hydro_lower = [0.95, 0.13, 0.62, 0.78, 0.85, 1.7, 1.4, 1.6, 1.85, 2.8, 2.4, 2.5, 2.5, 2.5, 2.5]
s_seawater = [[0.12, 0.0075, 0.076, 0.096, 0.098, 0.165, 0.195, 0.225, 0.285, 0.86, 0.41, 0.46, 0.50, 0.52, 0.64],
              [0.12, 0.0070, 0.062, 0.076, 0.078, 0.128, 0.150, 0.175, 0.225, 0.70, 0.32, 0.36, 0.39, 0.41, 0.52]]

# ------------------------------------------------------------- styling
sns.set_theme(style="ticks")
plt.rcParams['font.family'] = ['Liberation Sans', 'DejaVu Sans']
plt.rcParams['axes.unicode_minus'] = False
TXT = '#231f20'

FIG_W, FIG_H = 905, 1088
fig = plt.figure(figsize=(FIG_W / 100, FIG_H / 100), dpi=100)
fig.patch.set_facecolor('white')


def px_axes(left, top, width, height):
    return fig.add_axes([left / FIG_W, 1 - (top + height) / FIG_H, width / FIG_W, height / FIG_H])


def draw_group(ax, lines, color, lw=0.9, zorder=2):
    rows = []
    for i, vals in enumerate(lines):
        for el, x, v in zip(ELEMENTS, ELEMENT_POS, vals):
            rows.append((i, el, x, v))
    df = pd.DataFrame(rows, columns=['line', 'element', 'x', 'value'])
    sns.lineplot(data=df, x='x', y='value', units='line', estimator=None,
                 color=color, lw=lw, ax=ax, legend=False, zorder=zorder)


def style_axes(ax, ylo, yhi):
    ax.set_yscale('log')
    ax.set_ylim(ylo, yhi)
    ax.set_xlim(-0.5, 15.35)
    ax.set_xlabel('')
    ax.set_ylabel('')
    ax.xaxis.set_major_locator(FixedLocator(UPPER_TICKS))
    ax.xaxis.set_major_formatter(FixedFormatter(UPPER_LABELS))
    ax.xaxis.set_minor_locator(FixedLocator(LOWER_TICKS))
    ax.xaxis.set_minor_formatter(FixedFormatter(LOWER_LABELS))
    ax.tick_params(axis='x', which='both', direction='in', length=3, width=0.7,
                   labelsize=8.8, labelcolor=TXT, color='#555555')
    ax.tick_params(axis='x', which='major', pad=2)
    ax.tick_params(axis='x', which='minor', pad=10.5)
    decades = []
    d = ylo
    while d <= yhi * 1.0001:
        decades.append(d)
        d *= 10
    ax.yaxis.set_major_locator(FixedLocator(decades))
    ax.yaxis.set_major_formatter(FixedFormatter(['%g' % v for v in decades]))
    ax.yaxis.set_minor_locator(LogLocator(base=10, subs=(2, 3, 4, 5, 6, 7, 8, 9)))
    ax.yaxis.set_minor_formatter(NullFormatter())
    ax.tick_params(axis='y', which='major', direction='in', length=5, width=0.7,
                   labelsize=8.8, labelcolor=TXT, pad=2, color='#555555')
    ax.tick_params(axis='y', which='minor', direction='in', length=2.5, width=0.6, color='#777777')
    for side, sp in ax.spines.items():
        sp.set_visible(True)
        sp.set_linewidth(0.9)
        sp.set_color('#555555' if side in ('left', 'bottom') else '#7a7a7a')
    for xv in (1, 10):
        ax.axvline(xv, color='#9a9a9a', lw=2.4, ls=(0, (1, 0.8)), zorder=5)
    ax.set_facecolor('white')
    ax.grid(False)


COL_LEFT = [67, 352, 652]
COL_W = [251, 261, 251]
TITLE_X = [50, 336, 631]

PANELS = [
    ('(d) MR16-07 PC05', 0, 47, 100, (1, 100), {'I': d_I, 'II': d_II}),
    ('(e) MR16-07 PC06', 1, 47, 100, (1, 100), {'I': e_I, 'II': e_II, 'IV': e_IV, 'V': e_V}),
    ('(f) MR16-07 PC07', 2, 47, 100, (1, 100), {'I': f_I, 'II': f_II, 'IV': f_IV, 'V': f_V, 'P': f_P}),
    ('(g) MR16-07 PC08', 0, 225, 100, (1, 100), {'I': g_I, 'II': g_II}),
    ('(h) MR16-07 PC09', 1, 225, 100, (1, 100), {'I': h_I, 'II': h_II, 'IV': h_IV, 'V': h_V}),
    ('(i) MR16-07 PC10', 2, 225, 100, (1, 100), {'I': i_I, 'II': i_II, 'IV': i_IV, 'V': i_V, 'P': i_P}),
    ('(j) MR16-07 PC11', 0, 407, 99, (1, 100), {'I': j_I, 'II': j_II, 'IV': j_IV, 'V': j_V}),
    ('(k) MR16-07 PC12', 1, 407, 99, (0.1, 10), {'I': k_I}),
    ('(l) KM17-14C PC01', 2, 407, 99, (1, 100), {'I': l_I, 'II': l_II, 'P': l_P}),
    ('(m) KM17-14C PC02', 0, 582, 148, (0.1, 100), {'I': m_I, 'II': m_II, 'IV': m_IV, 'V': m_V, 'P': m_P}),
    ('(n) KM17-14C GC03', 1, 582, 100, (1, 100), {'I': n_I, 'II': n_II, 'IV': n_IV, 'V': n_V, 'P': n_P}),
    ('(o) KM17-14C PC04', 0, 793, 100, (1, 100), {'I': o_I, 'II': o_II, 'P': o_P}),
    ('(p) KM17-14C PC05', 1, 793, 100, (1, 100), {'II': p_II, 'V': p_V, 'P': p_P}),
    ('(q) ODP Site 800A', 0, 963, 100, (1, 100), {'I': q_I, 'II': q_II, 'III': q_III, 'IV': q_IV, 'V': q_V, 'P': q_P}),
    ('(r) ODP Site 801A', 1, 963, 100, (1, 100), {'II': r_II, 'III': r_III, 'IV': r_IV, 'V': r_V, 'P': r_P}),
]

TITLE_KW = dict(fontsize=16.2, fontweight='bold', color=TXT, ha='left', va='center')

for title, col, top, height, (ylo, yhi), groups in PANELS:
    ax = px_axes(COL_LEFT[col], top, COL_W[col], height)
    for unit in DRAW_ORDER:
        if unit in groups:
            draw_group(ax, groups[unit], UNIT_COLORS[unit])
    style_axes(ax, ylo, yhi)
    fig.text(TITLE_X[col] / FIG_W, 1 - (top - 22) / FIG_H, title, **TITLE_KW)

# ---------------------------------------------------- (s) reference panel
axs = px_axes(650, 582, 253, 309)
axs.fill_between(ELEMENT_POS, s_hydro_lower, s_hydro_upper, color='#f9c8c2', lw=0, zorder=1)
draw_group(axs, [s_phosphate], '#f2a200', lw=2.0, zorder=3)
draw_group(axs, s_nodules, '#17a074', lw=2.6, zorder=3)
draw_group(axs, s_seawater, '#1462f2', lw=1.6, zorder=3)
style_axes(axs, 0.001, 1000)
fig.text(629 / FIG_W, 1 - 561 / FIG_H, '(s) Reference materials', **TITLE_KW)

ann = dict(transform=axs.transAxes, fontweight='bold', fontstyle='italic', fontsize=10.8)
axs.text(0.965, 0.912, 'Biogenic Ca phosphate', color='#f2a200', ha='right', va='center', **ann)
axs.text(0.672, 0.825, 'Hydrothermal', color='#f28e86', ha='center', va='center', **ann)
axs.text(0.965, 0.785, 'Fe-Mn sediments', color='#f28e86', ha='right', va='center', **ann)
axs.text(0.965, 0.524, 'Mn nodules', color='#17a074', ha='right', va='center', **ann)
axs.text(0.965, 0.298, 'Seawater', color='#1462f2', ha='right', va='center', **ann)
axs.text(0.87, 0.338, '(× 10⁶)', color=TXT, ha='center', va='center', fontsize=7.8,
         transform=axs.transAxes)
axs.plot([13.4, 13.3], [0.19, 0.47], color=TXT, lw=0.7, zorder=6)
axs.plot([13.4, 13.55], [0.19, 0.47], color=TXT, lw=0.7, zorder=6)

# ------------------------------------------------------------ y label
fig.text(22 / FIG_W, 1 - 460 / FIG_H, 'PAAS-normalized', rotation=90, fontsize=16.8,
         fontweight='bold', color=TXT, ha='center', va='center')

# ------------------------------------------------------------ legend box
LEGEND_UNITS = ['I', 'II', 'III', 'IV', 'V', 'P']
LEGEND_LABELS = ['Unit I', 'Unit II', 'Unit III', 'Unit IV', 'Unit V', 'REY peaks (ΣREY > 2000 ppm)']
axl = px_axes(639, 955, 264, 128)
axl.set_xlim(0, 264)
axl.set_ylim(128, 0)
axl.set_xticks([])
axl.set_yticks([])
for sp in axl.spines.values():
    sp.set_visible(True)
    sp.set_color('#3a3a3a')
    sp.set_linewidth(1.3)
row_y = [17, 35.5, 54.5, 73, 91, 109.5]
LEG_FS = 11.1
for unit, label, yy in zip(LEGEND_UNITS, LEGEND_LABELS, row_y):
    axl.plot([8, 31], [yy, yy], color=UNIT_COLORS[unit], lw=2.0, solid_capstyle='butt')
    axl.text(38, yy, label, fontsize=LEG_FS, color=TXT, ha='left', va='center')
axl.text(91, row_y[0], '(ΣREY < 400 ppm)', fontsize=LEG_FS, color=TXT, ha='left', va='center')
axl.plot([93, 97.5, 97.5, 93], [28, 28, 97, 97], color=TXT, lw=1.0)
axl.text(106, 57, 'ΣREY', fontsize=LEG_FS, color=TXT, ha='left', va='center')
axl.text(119, 75, '= 400–2000 ppm', fontsize=LEG_FS, color=TXT, ha='left', va='center')

fig.savefig('out.png', dpi=100, facecolor='white')
